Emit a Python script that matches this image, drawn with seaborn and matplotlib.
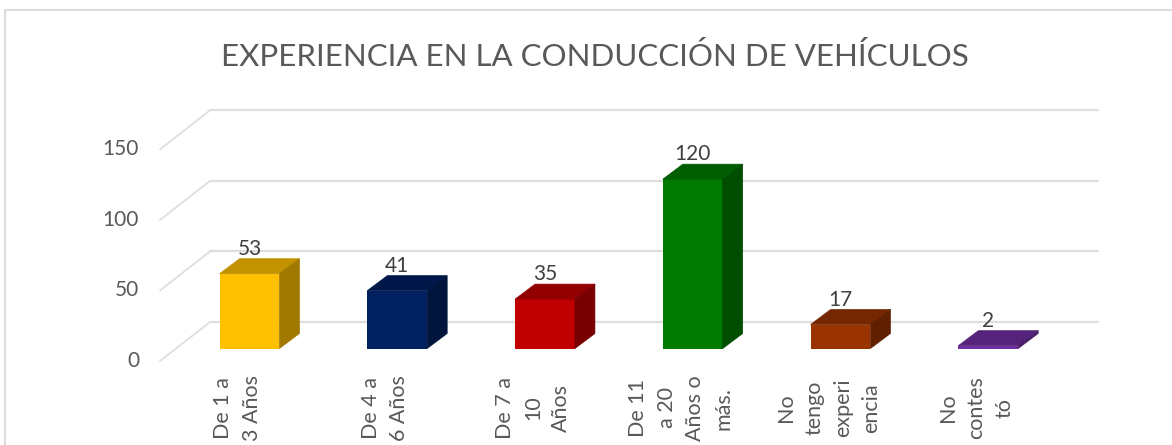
import matplotlib
matplotlib.use('Agg')
import matplotlib.pyplot as plt
import pandas as pd
import seaborn as sns
from matplotlib.colors import to_rgb
from matplotlib.patches import Polygon

categorias = ['De 1 a\n3 Años', 'De 4 a\n6 Años', 'De 7 a\n10\nAños',
              'De 11\na 20\nAños o\nmás.', 'No\ntengo\nexperi\nencia', 'No\ncontes\ntó']
valores = [53, 41, 35, 120, 17, 2]
colores = ['#FFC000', '#002060', '#C00000', '#007A00', '#993300', '#7030A0']
marcas_y = [0, 50, 100, 150]
titulo = 'EXPERIENCIA EN LA CONDUCCIÓN DE VEHÍCULOS'

W, H = 1172, 445
TEXTO = '#595959'
REJILLA = '#DEDEDE'
PX_X = 147.75   # pixeles por categoria
PX_Y = 1.411    # pixeles por unidad

sns.set_theme(style='white')
plt.rcParams['font.family'] = ['Lato', 'DejaVu Sans']

df = pd.DataFrame({'categoria': categorias, 'valor': valores})

fig = plt.figure(figsize=(W / 100, H / 100), dpi=100, facecolor='white')
ax = fig.add_axes([0, 0, 1, 1])
# limites elegidos para que la base de las barras caiga en y=348 px
x0, y0 = 249.5, 348.5


def px_x(p):
    return (p - x0) / PX_X


def px_y(p):
    return (y0 - p) / PX_Y


sns.barplot(data=df, x='categoria', y='valor', hue='categoria', palette=colores,
            legend=False, width=0.405, dodge=False, ax=ax, zorder=3, saturation=1,
            linewidth=0)
ax.set_xlim(px_x(0), px_x(W))
ax.set_ylim(px_y(H), px_y(0))
ax.axis('off')

# marco del grafico: solo izquierda y arriba entran en la imagen
ax.plot([px_x(5), px_x(5), px_x(W)], [px_y(H), px_y(10), px_y(10)], color='#DCDCDC', lw=1.5, zorder=0)

# rejilla en perspectiva: pared del fondo y piso
fx0, fx1, bx0 = px_x(160), px_x(1098), px_x(210)
fondo = (361 - 322) / PX_Y
frente = -(361 - 348.5) / PX_Y
for m in marcas_y:
    ax.plot([fx0, bx0], [m + frente, m + frente + fondo], color=REJILLA, lw=1.3, zorder=1)
    ax.plot([bx0, fx1], [m + frente + fondo] * 2, color=REJILLA, lw=1.6, zorder=1)
    ax.text(px_x(139), m + frente + 0.2 / PX_Y, str(m), ha='right', va='center',
            fontsize=15, color=TEXTO)

dx, dy = 20 / PX_X, 15 / PX_Y
for barra, valor, color in zip(ax.patches, valores, colores):
    izq, der = barra.get_x(), barra.get_x() + barra.get_width()
    rgb = to_rgb(color)
    tapa = tuple(c * 0.76 for c in rgb)
    lado = tuple(c * 0.63 for c in rgb)
    ax.add_patch(Polygon([(izq, valor), (der, valor), (der + dx, valor + dy), (izq + dx, valor + dy)],
                         fc=tapa, ec=tapa, lw=0.5, zorder=3))
    ax.add_patch(Polygon([(der, 0), (der + dx, dy), (der + dx, valor + dy), (der, valor)],
                         fc=lado, ec=lado, lw=0.5, zorder=3))
    ax.text((izq + der) / 2, valor + dy, str(valor), ha='center', va='bottom',
            fontsize=15, color='#404040', zorder=4)

for i, cat in enumerate(categorias):
    ax.text(i - 12 / PX_X, px_y(408), cat, rotation=90, ha='center', va='center',
            multialignment='center', fontsize=15.5, color=TEXTO, linespacing=1.52)

ax.text(px_x(594.5), px_y(56), titulo, ha='center', va='center', fontsize=22.5, color=TEXTO)

fig.savefig('out.png', dpi=100)
